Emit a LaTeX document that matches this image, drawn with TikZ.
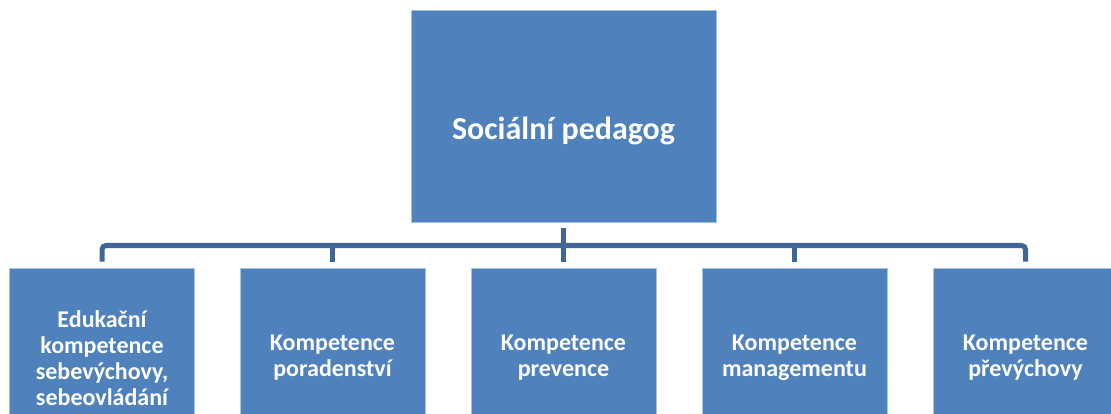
\documentclass[tikz,border=0pt]{standalone}
\usepackage{fontspec}
\setmainfont{Carlito}
\definecolor{boxblue}{HTML}{4F81BD}
\definecolor{boxedge}{HTML}{A9C0DE}
\definecolor{connblue}{HTML}{3F6696}
\tikzset{
  child/.style={rectangle, fill=boxblue, draw=boxedge, line width=0.6pt,
    minimum width=185pt, minimum height=180pt, inner sep=0pt,
    text=white, font=\bfseries\fontsize{24}{26}\selectfont, align=center, text width=175pt},
  topbox/.style={rectangle, fill=boxblue, draw=boxedge, line width=0.6pt,
    minimum width=305pt, minimum height=212pt, inner sep=0pt},
  toptext/.style={text=white, font=\bfseries\fontsize{32}{36}\selectfont, inner sep=0pt},
  conn/.style={draw=connblue, line width=5pt}
}
\begin{document}
\begin{tikzpicture}[x=1pt,y=-1pt]
\useasboundingbox (0,0) rectangle (1111,414);
\clip (0,0) rectangle (1111,414);
\node[topbox] (top) at (563.5,116) {};
\node[toptext, anchor=base] (toplabel) at (563.5,140) {Sociální pedagog};
\node[child] (c1) at (102,358) {Edukační\\kompetence\\sebevýchovy,\\sebeovládání};
\node[child] (c2) at (332.5,358) {Kompetence\\poradenství};
\node[child] (c3) at (563.5,358) {Kompetence\\prevence};
\node[child] (c4) at (794.5,358) {Kompetence\\managementu};
\node[child] (c5) at (1025.5,358) {Kompetence\\převýchovy};
\coordinate (bar) at (563.5,245.5);
\draw[conn, rounded corners=4pt] ([yshift=6pt]c1.north) |- (bar) -| ([yshift=6pt]c5.north);
\draw[conn] ([yshift=6pt]c2.north) -- (c2.north |- bar);
\draw[conn] ([yshift=6pt]c4.north) -- (c4.north |- bar);
\draw[conn] ([yshift=-6pt]top.south) -- ([yshift=6pt]c3.north);
\end{tikzpicture}
\end{document}
